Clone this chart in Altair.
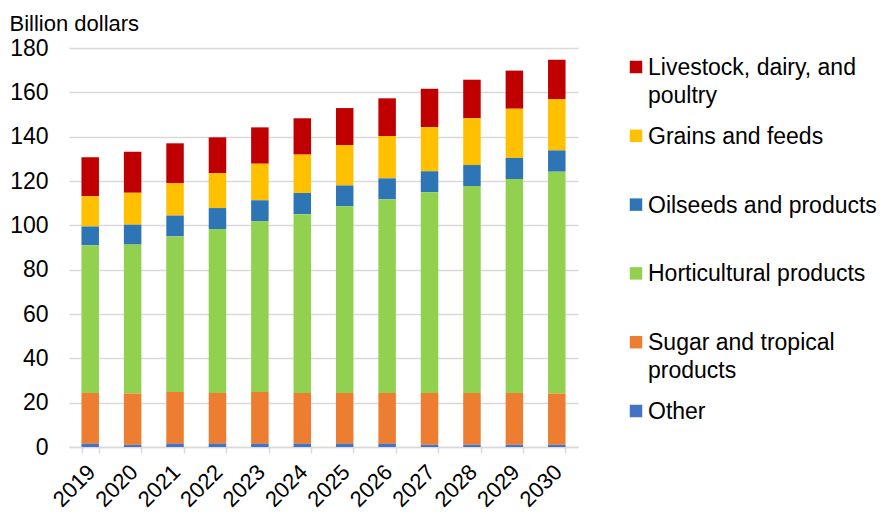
import altair as alt
import pandas as pd

years = [str(y) for y in range(2019, 2031)]
categories = ["Livestock, dairy, and poultry", "Grains and feeds", "Oilseeds and products",
              "Horticultural products", "Sugar and tropical products", "Other"]
legend_labels = ["Livestock, dairy, and\npoultry", "Grains and feeds", "Oilseeds and products",
                 "Horticultural products", "Sugar and tropical\nproducts", "Other"]
colors = ["#C00000", "#FFC000", "#2E75B6", "#92D050", "#ED7D31", "#4472C4"]

other = [1.5, 1.0, 1.5, 1.5, 1.5, 1.5, 1.5, 1.5, 1.0, 1.0, 1.0, 1.0]
sugar = [22.9, 23.1, 23.3, 22.9, 23.3, 22.9, 22.9, 22.9, 23.4, 23.4, 23.4, 23.1]
horticultural = [66.6, 67.2, 70.2, 73.9, 77.0, 80.6, 84.2, 87.3, 90.5, 93.3, 96.5, 100.1]
oilseeds = [8.5, 9.0, 9.4, 9.5, 9.5, 9.6, 9.4, 9.5, 9.5, 9.5, 9.5, 9.6]
grains = [13.6, 14.4, 14.7, 15.7, 16.5, 17.3, 18.2, 19.1, 19.9, 21.1, 22.2, 23.2]
livestock = [17.6, 18.5, 17.9, 16.2, 16.4, 16.4, 16.7, 17.0, 17.3, 17.4, 17.2, 17.7]

series = [livestock, grains, oilseeds, horticultural, sugar, other]
rows = []
for i, (cat, vals) in enumerate(zip(categories, series)):
    for yr, v in zip(years, vals):
        rows.append({"year": yr, "category": cat, "value": v, "order": i})
df = pd.DataFrame(rows)
legend_df = pd.DataFrame({"category": categories, "label": legend_labels})

font = "Liberation Sans"
color_scale = alt.Scale(domain=categories, range=colors)

bars = alt.Chart(df).mark_bar(size=17.5).encode(
    x=alt.X("year:N", title=None, sort=years,
            scale=alt.Scale(paddingInner=0.59, paddingOuter=0.295),
            axis=alt.Axis(labelAngle=315, labelFontSize=22, labelFont=font, labelColor="#000000",
                          tickBand="extent", ticks=True, tickSize=6, tickColor="#d9d9d9",
                          tickWidth=1.5, domainColor="#d9d9d9", domainWidth=1.5, grid=False,
                          labelPadding=8, labelOffset=-6)),
    y=alt.Y("value:Q", stack="zero",
            scale=alt.Scale(domain=[0, 180]),
            axis=alt.Axis(values=list(range(0, 181, 20)), labelFontSize=23, labelFont=font,
                          labelColor="#000000", ticks=False, domain=False, gridColor="#d9d9d9",
                          gridWidth=1.5, labelPadding=21,
                          title="Billion dollars", titleAngle=0, titleAlign="left",
                          titleBaseline="alphabetic", titleX=-60, titleY=-18,
                          titleFontSize=22, titleFont=font, titleFontWeight="normal",
                          titleColor="#000000")),
    color=alt.Color("category:N", scale=color_scale, legend=None),
    order=alt.Order("order:Q", sort="descending"),
)

leg_y = alt.Y("category:N", sort=categories, axis=None,
              scale=alt.Scale(type="point", range=[19, 363], padding=0))

leg_sq = alt.Chart(legend_df).mark_square(size=156, opacity=1).encode(
    x=alt.value(567),
    y=leg_y,
    color=alt.Color("category:N", scale=color_scale, legend=None),
)

leg_txt = alt.Chart(legend_df).mark_text(
    align="left", baseline="alphabetic", dy=8, lineBreak="\n", lineHeight=28,
    fontSize=23, font=font, color="#000000",
).encode(
    x=alt.value(579),
    y=leg_y,
    text="label:N",
)

chart = alt.layer(bars, leg_sq, leg_txt).resolve_scale(y="independent").properties(
    width=509, height=399,
    autosize=alt.AutoSizeParams(type="none"),
    padding={"left": 61, "top": 40, "right": 301, "bottom": 64},
).configure_view(stroke=None)

chart.save("out.html", embed_options={"renderer": "svg", "actions": False})
